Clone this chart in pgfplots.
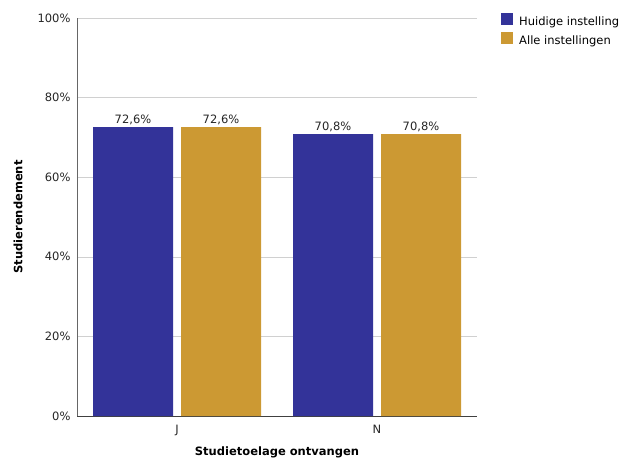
\documentclass[border=0pt]{standalone}
\usepackage{pgfplots}
\pgfplotsset{compat=1.18}
\usepackage{fontspec}
\setmainfont{DejaVu Sans}
\definecolor{cblue}{HTML}{333399}
\definecolor{cgold}{HTML}{CC9933}
\definecolor{cgrid}{HTML}{D0D0D0}
\begin{document}
\begin{tikzpicture}
\useasboundingbox (-77pt,-43pt) rectangle (551pt,416pt);
\begin{axis}[
  at={(0pt,0pt)}, anchor=south west,
  scale only axis, width=400pt, height=398pt,
  xmin=-0.5, xmax=1.5, ymin=0, ymax=100,
  xtick={0,1}, xticklabels={J,N},
  ytick={0,20,40,60,80,100},
  yticklabel={\pgfmathprintnumber{\tick}\%},
  /pgf/number format/assume math mode=true,
  axis x line=bottom, axis y line=left,
  axis line style={-, draw=gray!80!black},
  x axis line style={draw=black!75},
  major tick length=0pt,
  ymajorgrids, grid style={cgrid, line width=0.6pt},
  tick label style={font=\fontsize{11.5}{13}\selectfont, text=black!85},
  yticklabel style={xshift=-3pt},
  xticklabel style={yshift=-6pt},
  xlabel={\bfseries Studietoelage ontvangen},
  ylabel={\bfseries Studierendement},
  label style={font=\fontsize{11.5}{13}\selectfont},
  ylabel style={at={(-0.1475,0.5)}, anchor=center},
  xlabel style={at={(0.5,-0.0905)}, anchor=center},
  ybar=8pt, bar width=80pt,
  nodes near coords={\pgfmathprintnumber[fixed,fixed zerofill,precision=1,use comma]{\pgfplotspointmeta}\%},
  every node near coord/.append style={font=\fontsize{11.5}{13}\selectfont, text=black!85, inner sep=2pt},
  legend style={at={(1.06,1.0126)}, anchor=north west, draw=none, fill=none,
    font=\fontsize{11.5}{13}\selectfont, row sep=4pt, inner sep=0pt,
    nodes={inner sep=0pt, text height=9pt, text depth=3pt},
    /tikz/every odd column/.append style={column sep=6pt}},
  legend image code/.code={\draw[#1, draw=none] (0pt,-3pt) rectangle (12pt,9pt);},
  legend cell align=left,
  clip=false,
]
\addplot[fill=cblue, draw=none] coordinates {(0,72.6) (1,70.8)};
\addplot[fill=cgold, draw=none] coordinates {(0,72.6) (1,70.8)};
\legend{Huidige instelling, Alle instellingen}
\end{axis}
\end{tikzpicture}
\end{document}
